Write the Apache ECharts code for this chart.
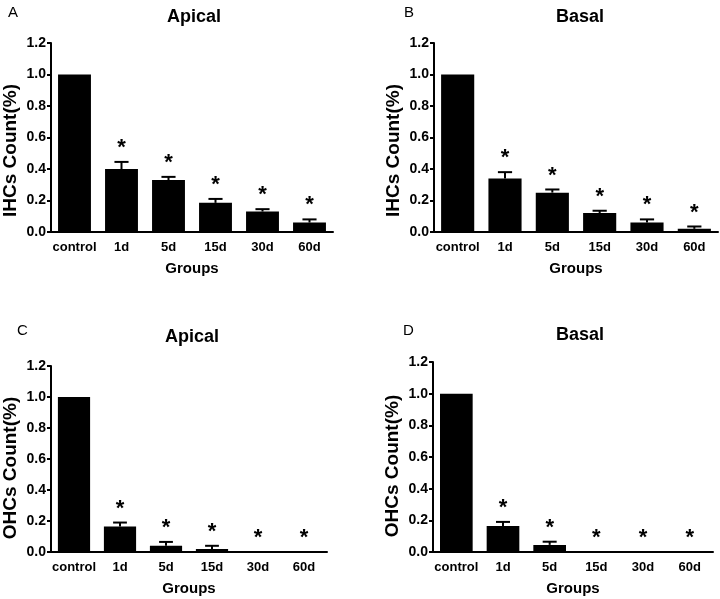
<!DOCTYPE html>
<html>
<head>
<meta charset="utf-8">
<script src="https://cdn.jsdelivr.net/npm/echarts@6/dist/echarts.min.js"></script>
<style>
	html, body {margin: 0; padding: 0; background: #fff;}
	#main {width: 720px; height: 599px;}
</style>
</head>
<body>
<div id="main"></div>
<script>
	var groups = ['control', '1d', '5d', '15d', '30d', '60d']
	var yTicks = [0, 0.2, 0.4, 0.6, 0.8, 1.0, 1.2]

	// 各面板的均值与误差(SEM)
	var ihcApicalMean = [1.0, 0.40, 0.33, 0.185, 0.13, 0.06]
	var ihcApicalErr = [0, 0.045, 0.02, 0.025, 0.015, 0.02]
	var ihcBasalMean = [1.0, 0.34, 0.25, 0.12, 0.06, 0.02]
	var ihcBasalErr = [0, 0.04, 0.02, 0.015, 0.02, 0.015]
	var ohcApicalMean = [1.0, 0.165, 0.04, 0.02, 0, 0]
	var ohcApicalErr = [0, 0.025, 0.025, 0.02, 0, 0]
	var ohcBasalMean = [1.0, 0.165, 0.045, 0, 0, 0]
	var ohcBasalErr = [0, 0.025, 0.02, 0, 0, 0]
	// 显著性标记
	var stars = [false, true, true, true, true, true]

	var panels = [
		{letter: 'A', title: 'Apical', yName: 'IHCs Count(%)', mean: ihcApicalMean, err: ihcApicalErr,
			grid: {left: 50, top: 43, width: 283, height: 189}, lx: 3, ly: 0, tx: 189, ty: 3, shift: 26},
		{letter: 'B', title: 'Basal', yName: 'IHCs Count(%)', mean: ihcBasalMean, err: ihcBasalErr,
			grid: {left: 434, top: 43, width: 284, height: 189}, lx: 399, ly: 0, tx: 575, ty: 3, shift: 26},
		{letter: 'C', title: 'Apical', yName: 'OHCs Count(%)', mean: ohcApicalMean, err: ohcApicalErr,
			grid: {left: 48, top: 366, width: 279, height: 186}, lx: 12, ly: 318, tx: 187, ty: 323, shift: 18},
		{letter: 'D', title: 'Basal', yName: 'OHCs Count(%)', mean: ohcBasalMean, err: ohcBasalErr,
			grid: {left: 433, top: 362, width: 280, height: 190}, lx: 398, ly: 318, tx: 575, ty: 321, shift: 18}
	]

	var font = 'Liberation Sans, Arial, sans-serif'

	function errRender(params, api) {
		var x = api.value(0)
		var m = api.value(1)
		var e = api.value(2)
		var s = api.value(3)
		var base = api.coord([x, m])
		var top = api.coord([x, m + e])
		var half = api.size([1, 0])[0] * 0.15
		var children = []
		if (e > 0) {
			children.push({type: 'line', shape: {x1: base[0], y1: base[1], x2: top[0], y2: top[1]},
				style: {stroke: '#000', lineWidth: 2}})
			children.push({type: 'line', shape: {x1: top[0] - half, y1: top[1], x2: top[0] + half, y2: top[1]},
				style: {stroke: '#000', lineWidth: 2}})
		}
		if (s) {
			children.push({type: 'text', x: top[0], y: top[1] - 3,
				style: {text: '*', fill: '#000', font: 'bold 22px ' + font, align: 'center', verticalAlign: 'bottom'}})
		}
		return {type: 'group', children: children}
	}

	var chart = echarts.init(document.getElementById('main'))
	var option = {
		animation: false,
		backgroundColor: '#fff',
		title: [],
		grid: [],
		xAxis: [],
		yAxis: [],
		series: []
	}

	for (var i = 0; i < panels.length; i++) {
		var p = panels[i]
		option.title.push({text: p.letter, left: p.lx, top: p.ly,
			textStyle: {fontFamily: font, fontWeight: 'normal', fontSize: 15, color: '#000'}})
		option.title.push({text: p.title, left: p.tx, top: p.ty, textAlign: 'center',
			textStyle: {fontFamily: font, fontWeight: 'bold', fontSize: 18, color: '#000'}})
		option.grid.push(p.grid)
		option.xAxis.push({
			type: 'category', gridIndex: i, data: groups,
			name: 'Groups', nameLocation: 'middle', nameGap: 29,
			nameTextStyle: {fontFamily: font, fontWeight: 'bold', fontSize: 15, color: '#000'},
			axisLine: {lineStyle: {color: '#000', width: 2}},
			axisTick: {show: false},
			axisLabel: {fontFamily: font, fontWeight: 'bold', fontSize: 13, color: '#000', margin: 9, interval: 0}
		})
		option.yAxis.push({
			type: 'value', gridIndex: i, min: 0, max: 1.2, interval: 0.2,
			name: p.yName, nameLocation: 'middle', nameGap: 31,
			//名称略偏下，与原图一致
			nameTextStyle: {fontFamily: font, fontWeight: 'bold', fontSize: 19, color: '#000',
				padding: [0, p.shift, 0, 0]},
			axisLine: {show: true, lineStyle: {color: '#000', width: 2}},
			axisTick: {show: true, length: 4, lineStyle: {color: '#000', width: 2}},
			splitLine: {show: false},
			axisLabel: {fontFamily: font, fontWeight: 'bold', fontSize: 14, color: '#000', margin: 5,
				formatter: function(v) { return v.toFixed(1) }}
		})
		option.series.push({
			type: 'bar', xAxisIndex: i, yAxisIndex: i, data: p.mean,
			barWidth: '70%', itemStyle: {color: '#000'}
		})
		var errData = []
		for (var k = 0; k < groups.length; k++) {
			errData.push([k, p.mean[k], p.err[k], stars[k] ? 1 : 0])
		}
		option.series.push({
			type: 'custom', xAxisIndex: i, yAxisIndex: i, data: errData,
			renderItem: errRender, z: 5
		})
	}

	chart.setOption(option)
</script>
</body>
</html>
